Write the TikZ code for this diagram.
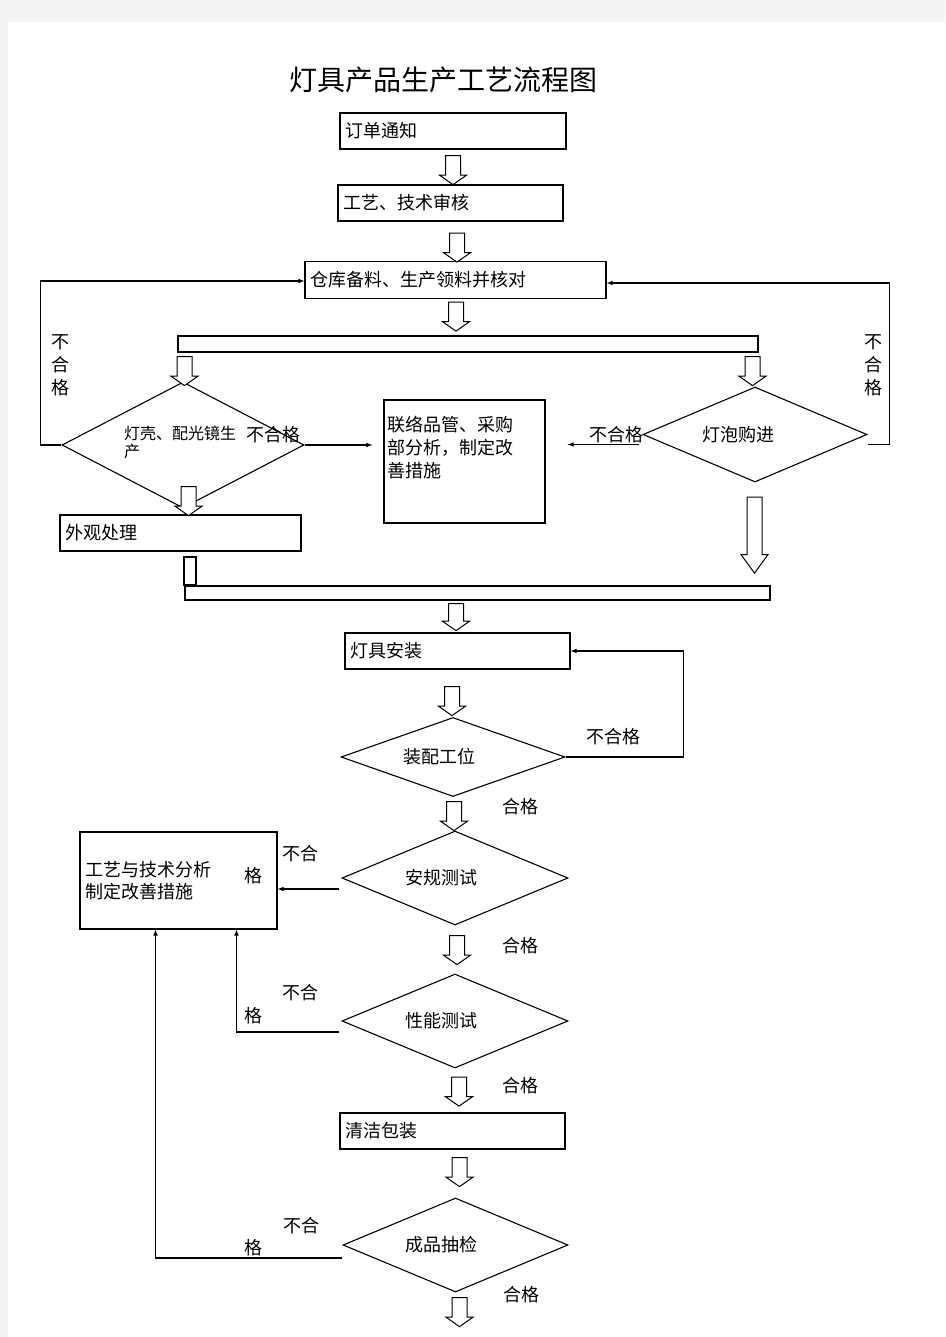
\documentclass[tikz,border=0pt]{standalone}
\usepackage{fontspec}
\setmainfont{Noto Sans CJK SC}
\usetikzlibrary{shapes.geometric,shapes.arrows}
\definecolor{pagegray}{RGB}{243,243,243}
\begin{document}
\begin{tikzpicture}
    [
    x=1pt,y=-1pt,line width=1.1pt,
    every node/.style={font=\fontsize{18}{23}\selectfont},
    box/.style={draw,rectangle,minimum height=36pt,inner xsep=5pt,align=left},
    bar/.style={draw,rectangle,fill=white,inner sep=0pt},
    decision/.style={diamond,draw,inner sep=0pt},
    hollow/.style={single arrow,draw,fill=white,line width=1pt,rotate=-90,inner xsep=0pt,inner ysep=7pt,
      single arrow head extend=6pt,single arrow tip angle=110,minimum width=26pt,minimum height=29pt},
    note/.style={inner sep=0pt,align=center}
    ]
    \useasboundingbox (0,0) rectangle (945,1337);
    \fill [pagegray] (0,0) rectangle (945,1337);
    \fill [white] (8,22) rectangle (945,1337);

    \node (title) at (443,80) [font=\fontsize{28}{30}\selectfont] {灯具产品生产工艺流程图};

    \node (order) at (453,131) [box,text width=216pt] {订单通知};
    \node (review) at (450.5,203) [box,text width=215pt] {工艺、技术审核};
    \node (store) at (455.5,280) [box,text width=291pt,minimum height=37pt] {仓库备料、生产领料并核对};
    \node (bar1) at (468,344) [bar,minimum width=580pt,minimum height=16pt] {};
    \node (shell) at (183,445) [decision,minimum width=242pt,minimum height=126pt,
      label={[align=left,font=\fontsize{16}{18}\selectfont,xshift=-3pt,yshift=3pt]center:灯壳、配光镜生\\产}] {};
    \node (fix) at (464.5,461.5) [box,minimum width=161pt,minimum height=123pt] {};
    \node (fixtext) at (387,416) [anchor=north west,align=left,inner sep=0pt] {联络品管、采购\\部分析，制定改\\善措施};
    \node (bulb) at (755,434.5) [decision,minimum width=224pt,minimum height=95pt,
      label={[xshift=-17pt]center:灯泡购进}] {};
    \node (look) at (180.5,533) [box,text width=231pt] {外观处理};
    \node (stub) at (190,571) [bar,minimum width=12pt,minimum height=28pt] {};
    \node (bar2) at (477.5,593) [bar,minimum width=585pt,minimum height=14pt] {};
    \node (mount) at (457.5,651) [box,text width=215pt] {灯具安装};
    \node (fit) at (453,757) [decision,minimum width=224pt,minimum height=79pt,
      label={[xshift=-14pt]center:装配工位}] {};
    \node (safety) at (455,878) [decision,minimum width=226pt,minimum height=94pt,
      label={[xshift=-14pt]center:安规测试}] {};
    \node (analyse) at (178.5,880.5) [box,text width=187pt,minimum height=97pt,
      font=\fontsize{18}{22}\selectfont] {工艺与技术分析\\制定改善措施};
    \node (perf) at (455,1021) [decision,minimum width=226pt,minimum height=94pt,
      label={[xshift=-14pt]center:性能测试}] {};
    \node (pack) at (452.5,1131) [box,text width=215pt] {清洁包装};
    \node (check) at (455.5,1245) [decision,minimum width=225pt,minimum height=94pt,
      label={[xshift=-14pt]center:成品抽检}] {};

    % hollow arrows
    \node (a1) at (453,167.5) [hollow] {};
    \node (a2) at (457,245) [hollow] {};
    \node (a3) at (456,314) [hollow] {};
    \node (a4) at (184.5,368.5) [hollow] {};
    \node (a5) at (752.5,368.5) [hollow] {};
    \node (a6) at (188.5,498.5) [hollow] {};
    \node (a7) at (754.5,530) [hollow,minimum height=76pt,single arrow tip angle=72] {};
    \node (a8) at (456,614.5) [hollow,minimum height=27pt] {};
    \node (a9) at (452,698.5) [hollow] {};
    \node (a10) at (454,813.5) [hollow] {};
    \node (a11) at (457,947.5) [hollow] {};
    \node (a12) at (459,1089) [hollow] {};
    \node (a13) at (459.5,1169.5) [hollow] {};
    \node (a14) at (459.5,1309.5) [hollow] {};

    % labels
    \node (n1) at (60,365) [note] {不\\合\\格};
    \node (n2) at (873,365) [note] {不\\合\\格};
    \node (n3) at (273,435) [note] {不合格};
    \node (n4) at (616,435) [note] {不合格};
    \node (n5) at (613,737) [note] {不合格};
    \node (p1) at (520,807) [note] {合格};
    \node (n6) at (300,854) [note] {不合};
    \node (n7) at (253,876) [note] {格};
    \node (p2) at (520,946) [note] {合格};
    \node (n8) at (300,993) [note] {不合};
    \node (n9) at (253,1016) [note] {格};
    \node (p3) at (520,1086) [note] {合格};
    \node (n10) at (301,1226) [note] {不合};
    \node (n11) at (253.5,1248) [note] {格};
    \node (p4) at (521,1295) [note] {合格};

    % connectors
    \draw [-latex,shorten >=11pt] (shell.east) -- (shell.east -| fix.west);
    \draw [-latex] (shell.west) -- ++(-21,0) |- ([yshift=-1pt]store.west);
    \draw [-latex,shorten <=3pt,shorten >=22pt] ([yshift=-10pt]bulb.west) -- ([yshift=-10pt]bulb.west -| fix.east);
    \draw [-latex] ([yshift=-10pt]bulb.east) -- ++(22,0) |- ([yshift=-3pt]store.east);
    \draw [-latex] (fit.east) -- ++(118,0) |- (mount.east);
    \draw [-latex,shorten <=2pt] ([yshift=-11pt]safety.west) -- ([yshift=-11pt]safety.west -| analyse.east);
    \draw [-latex,shorten <=2pt] ([yshift=-11pt]perf.west) -| ([xshift=58pt]analyse.south);
    \draw [-latex] ([yshift=-13pt]check.west) -| ([xshift=-23pt]analyse.south);
  \end{tikzpicture}
\end{document}
